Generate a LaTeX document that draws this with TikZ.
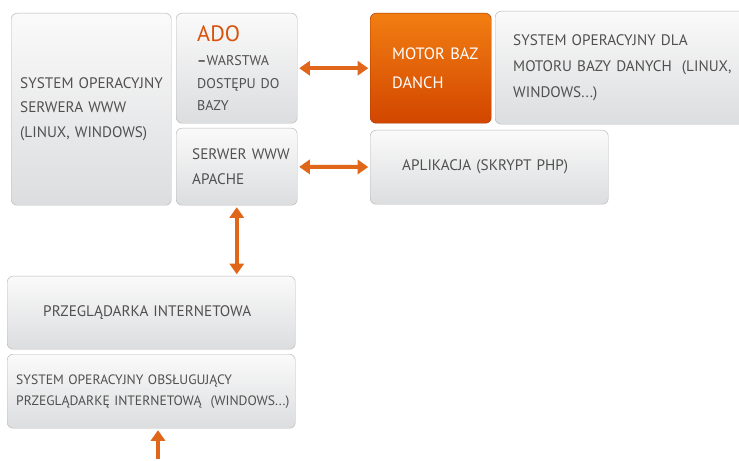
\documentclass[tikz,border=0pt]{standalone}
\usepackage{fontspec}
\setmainfont{PT Sans}
\usepackage{tikz}
\usetikzlibrary{arrows.meta}
\usetikzlibrary{positioning}

\definecolor{boxline}{HTML}{B8B8B8}
\definecolor{boxtop}{HTML}{FAFAFA}
\definecolor{boxbottom}{HTML}{DCDDDF}
\definecolor{txtgray}{HTML}{505050}
\definecolor{orangetop}{HTML}{F27E12}
\definecolor{orangebottom}{HTML}{D24600}
\definecolor{arroworange}{HTML}{E0661A}
\definecolor{adoorange}{HTML}{D9520B}

\begin{document}
\begin{tikzpicture}[x=0.03cm,y=-0.03cm,
    box/.style={draw=boxline,rounded corners=5pt,top color=boxtop,bottom color=boxbottom,
        anchor=north west,align=left,text=txtgray,font=\fontsize{13}{21}\selectfont},
    hotbox/.style={box,draw=orangebottom!80!black,top color=orangetop,bottom color=orangebottom,text=white},
    link/.style={draw=arroworange,line width=3.4pt,shorten >=1.5pt,shorten <=1.5pt},
    >={Triangle[width=12pt,length=9pt]}]

    \useasboundingbox (0,0) rectangle (739,461);

    % Server side
    \node[box,minimum width=4.8cm,minimum height=5.76cm,inner xsep=0.27cm,text width=4.26cm] (osserwer) at (11,13)
        {\mbox{SYSTEM OPERACYJNY}\\\mbox{SERWERA WWW}\\\mbox{(LINUX, WINDOWS)}};
    \node[box,minimum width=3.63cm,minimum height=3.3cm,inner xsep=0.63cm,text width=2.37cm,
        font=\fontsize{12}{19.5}\selectfont] (ado) at (176,13)
        {{\color{adoorange}\fontsize{19}{20}\selectfont ADO}\\[1pt]\textbf{–}WARSTWA\\\mbox{DOSTĘPU DO}\\BAZY};
    \node[box,minimum width=3.63cm,minimum height=2.31cm,inner xsep=0.48cm,text width=2.67cm] (serwer) at (176,128)
        {\mbox{SERWER WWW}\\APACHE};

    % Database side
    \node[hotbox,minimum width=3.63cm,minimum height=3.3cm,inner xsep=0.66cm,text width=2.31cm,
        font=\fontsize{14}{24}\selectfont] (motor) at (370,13)
        {\mbox{MOTOR BAZ}\\DANCH\\[-6pt]};
    \node[box,minimum width=7.5cm,minimum height=3.39cm,inner xsep=0.54cm,text width=6.42cm,
        font=\fontsize{13}{22.5}\selectfont] (osmotor) at (495,11)
        {\mbox{SYSTEM OPERACYJNY DLA}\\\mbox{MOTORU BAZY DANYCH\ \ (LINUX,}\\\mbox{WINDOWS...)}};
    \node[box,minimum width=7.14cm,minimum height=2.22cm,inner xsep=0.96cm,text width=5.22cm] (aplikacja) at (370,130)
        {\mbox{APLIKACJA (SKRYPT PHP)}};

    % Client side
    \node[box,minimum width=8.64cm,minimum height=2.19cm,inner xsep=1.08cm,text width=6.48cm] (przegladarka) at (7,276)
        {\mbox{PRZEGLĄDARKA INTERNETOWA}};
    \node[box,minimum width=8.64cm,minimum height=2.22cm,inner xsep=0.27cm,text width=8.1cm,
        font=\fontsize{11.6}{18}\selectfont] (osklient) at (7,354)
        {\mbox{SYSTEM OPERACYJNY OBSŁUGUJĄCY}\\\mbox{PRZEGLĄDARKĘ INTERNETOWĄ\ \ (WINDOWS...)}};

    \coordinate (wejscie) at (158,461);

    % Arrows
    \draw[link,<->] (ado) -- (motor);
    \draw[link,<->] (serwer) -- (aplikacja);
    \draw[link,<->] (serwer.south) -- (serwer.south |- przegladarka.north);
    \draw[link,->] (wejscie) -- (wejscie |- osklient.south);

\end{tikzpicture}
\end{document}
